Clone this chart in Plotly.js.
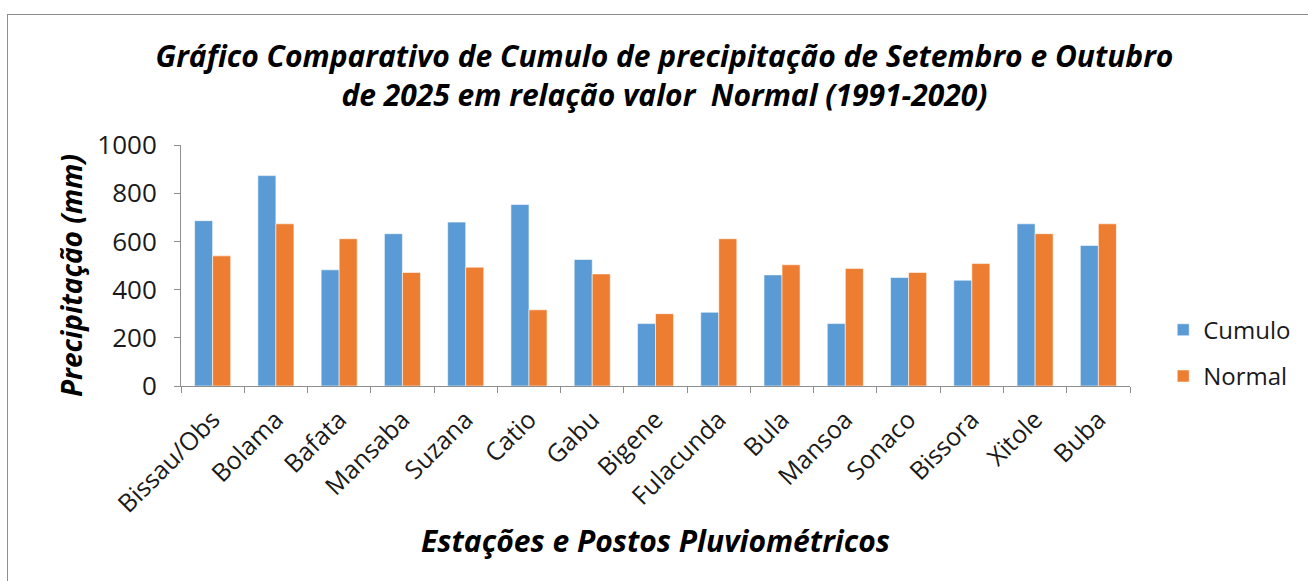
<!DOCTYPE html>
<html>
<head>
<meta charset="utf-8">
<script src="https://cdn.plot.ly/plotly-3.0.1.min.js"></script>
<style>
  html, body { margin: 0; padding: 0; background: #ffffff; }
  #wrap { position: relative; width: 1308px; height: 581px; overflow: hidden; }
  #chart { position: absolute; left: 0; top: 0; width: 1308px; height: 581px; }
  #frame { position: absolute; left: 7px; top: 14px; width: 1320px; height: 600px;
           border-left: 1px solid #8e8e8e; border-top: 1px solid #8e8e8e; pointer-events: none; }
</style>
</head>
<body>
<div id="wrap">
  <div id="chart"></div>
  <div id="frame"></div>
</div>
<script>
const stations = ['Bissau/Obs','Bolama','Bafata','Mansaba','Suzana','Catio','Gabu','Bigene','Fulacunda','Bula','Mansoa','Sonaco','Bissora','Xitole','Buba'];
const cumulo = [686, 873, 482, 632, 680, 753, 525, 259, 306, 461, 259, 450, 439, 673, 583];
const normal = [540, 673, 611, 471, 493, 316, 465, 300, 611, 503, 488, 471, 508, 632, 673];
const yTicks = [0, 200, 400, 600, 800, 1000];

const titleText = 'Gráfico Comparativo de Cumulo de precipitação de Setembro e Outubro<br>de 2025 em relação valor  Normal (1991-2020)';
const yTitle = 'Precipitação (mm)';
const xTitle = 'Estações e Postos Pluviométricos';

const FONT = 'Open Sans, Liberation Sans, sans-serif';

const traces = [
  {
    type: 'bar', name: 'Cumulo', x: stations, y: cumulo, legendgroup: 'c',
    marker: { color: '#5B9BD5', line: { color: 'rgba(255,255,255,0.7)', width: 0.8 } }
  },
  {
    type: 'bar', name: 'Normal', x: stations, y: normal, legendgroup: 'n',
    marker: { color: '#ED7D31', line: { color: 'rgba(255,255,255,0.7)', width: 0.8 } }
  }
];

const layout = {
  width: 1308, height: 581,
  paper_bgcolor: '#ffffff', plot_bgcolor: '#ffffff',
  margin: { l: 181, r: 175, t: 145, b: 195, pad: 0 },
  font: { family: FONT, color: '#1a1a1a', size: 20 },
  barmode: 'group', bargap: 0.43, bargroupgap: 0,
  showlegend: true,
  title: {
    text: titleText,
    font: { family: FONT, size: 30, weight: 'bold', style: 'italic', color: '#000000' },
    x: 0.508, xref: 'container', xanchor: 'center',
    y: 0.884, yref: 'container', yanchor: 'middle'
  },
  xaxis: {
    type: 'category',
    tickson: 'boundaries',
    ticks: 'outside', ticklen: 6, tickcolor: '#8e8e8e', tickwidth: 1,
    showline: true, linecolor: '#8e8e8e', linewidth: 1,
    showgrid: false, zeroline: false,
    tickangle: -45,
    ticklabelstandoff: 8,
    tickfont: { family: FONT, size: 25, color: '#1a1a1a' },
    title: { text: xTitle, standoff: 12, font: { family: FONT, size: 30, weight: 'bold', style: 'italic', color: '#000000' } }
  },
  yaxis: {
    range: [0, 1000], tickvals: yTicks, ticktext: yTicks.map(String),
    ticks: 'outside', ticklen: 6, tickcolor: '#8e8e8e', tickwidth: 1,
    ticklabelstandoff: 12,
    showline: true, linecolor: '#8e8e8e', linewidth: 1,
    showgrid: false, zeroline: false,
    tickfont: { family: FONT, size: 26, color: '#1a1a1a' }
  },
  annotations: [
    {
      text: yTitle, textangle: -90, showarrow: false,
      xref: 'paper', yref: 'paper', x: -0.1166, y: 0.458,
      xanchor: 'center', yanchor: 'middle',
      font: { family: FONT, size: 28, weight: 'bold', style: 'italic', color: '#000000' }
    }
  ],
  legend: {
    x: 1.035, xanchor: 'left', y: 0.325, yanchor: 'top',
    font: { family: FONT, size: 24, color: '#1a1a1a' },
    traceorder: 'grouped', tracegroupgap: 12,
    bgcolor: 'rgba(0,0,0,0)', itemwidth: 30
  }
};

Plotly.newPlot('chart', traces, layout, { displayModeBar: false, staticPlot: true });
</script>
</body>
</html>
